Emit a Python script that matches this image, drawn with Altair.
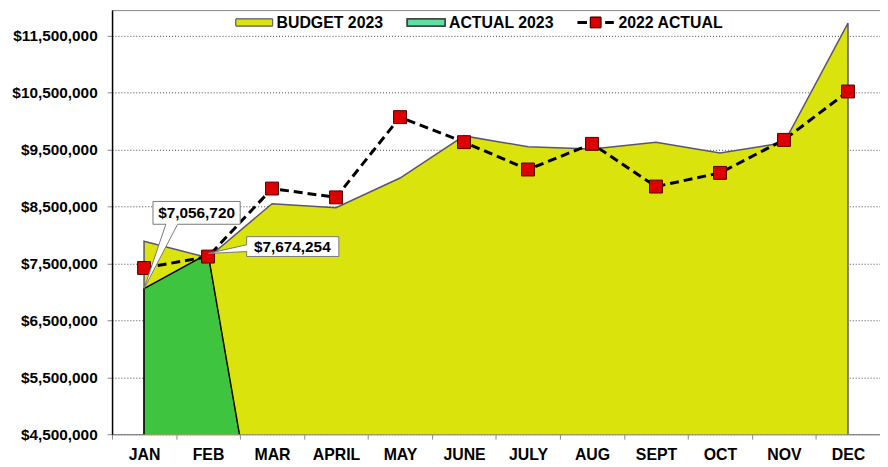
import altair as alt
import pandas as pd

months = ["JAN", "FEB", "MAR", "APRIL", "MAY", "JUNE", "JULY", "AUG", "SEPT", "OCT", "NOV", "DEC"]
budget_2023 = [7890000, 7600000, 8550000, 8480000, 9000000, 9740000, 9550000, 9510000, 9630000, 9440000, 9620000, 11720000]
actual_2023 = [7056720, 7674254, 1200000, None, None, None, None, None, None, None, None, None]
actual_2022 = [7420000, 7620000, 8815000, 8660000, 10070000, 9630000, 9150000, 9600000, 8850000, 9090000, 9670000, 10520000]

callout_months = ["JAN", "FEB"]
callout_values = [7056720, 7674254]
callout_labels = ["$7,056,720", "$7,674,254"]

y_ticks = [4500000, 5500000, 6500000, 7500000, 8500000, 9500000, 10500000, 11500000]
legend_labels = ["BUDGET 2023", "ACTUAL 2023", "2022 ACTUAL"]

FONT = "Liberation Sans"
YELLOW = "#DAE30B"
GREEN = "#3FC43F"
RED = "#DD0000"

df = pd.DataFrame({"month": months, "budget": budget_2023,
                   "actual23": actual_2023, "actual22": actual_2022})
co = pd.DataFrame({"month": callout_months, "value": callout_values, "label": callout_labels})

W, H = 775, 428
xscale = alt.Scale(type="band", paddingInner=0, paddingOuter=0, domain=months)
yscale = alt.Scale(domain=[4500000, 11950000], nice=False, zero=False)

x_enc = alt.X("month:N", sort=months, scale=xscale, title=None,
              axis=alt.Axis(labelFont=FONT, labelFontSize=16, labelFontWeight="bold",
                            labelColor="black", labelAngle=0, labelPadding=8,
                            tickBand="extent", tickSize=5, tickColor="#888",
                            domainColor="#888", grid=False))
y_axis = alt.Axis(values=y_ticks, format="$,.0f", labelFont=FONT, labelFontSize=15.5,
                  labelFontWeight="bold", labelColor="black", labelPadding=10,
                  tickSize=5, tickColor="#888", domainColor="black", domainWidth=1.5,
                  grid=True, gridDash=[1, 2], gridColor="#444", gridWidth=1)


def xe():
    return alt.X("month:N", sort=months, scale=xscale, title=None)


def ye(field):
    return alt.Y(field, scale=yscale, title=None)


base = alt.Chart(df)

budget = base.mark_area(color=YELLOW, stroke="#5B5570", strokeWidth=1.5, clip=True).encode(
    x=x_enc,
    y=alt.Y("budget:Q", scale=yscale, title=None, axis=y_axis),
)

actual = base.mark_area(color=GREEN, stroke="black", strokeWidth=1.5, clip=True).encode(
    x=xe(), y=ye("actual23:Q"))

line22 = base.mark_line(color="black", strokeWidth=3, strokeDash=[9, 5]).encode(
    x=xe(), y=ye("actual22:Q"))
pts22 = base.mark_point(shape="square", filled=True, size=170, fill=RED, stroke="#500000",
                        strokeWidth=1, opacity=1).encode(x=xe(), y=ye("actual22:Q"))

# callout boxes with pointer wedge (tip at the data point)
path1 = "M0,0 L0.5,-1.477 H0.205 V-2 H2.205 V-1.477 H0.77 Z"
path2 = "M0,0 L0.886,-0.045 V0.068 H3 V-0.386 H0.886 V-0.2 Z"
co1 = alt.Chart(co.iloc[[0]])
co2 = alt.Chart(co.iloc[[1]])
box1 = co1.mark_point(shape=path1, size=7744, filled=True, fill="white", stroke="#777",
                      strokeWidth=1, opacity=1).encode(x=xe(), y=ye("value:Q"))
box2 = co2.mark_point(shape=path2, size=7744, filled=True, fill="white", stroke="#777",
                      strokeWidth=1, opacity=1).encode(x=xe(), y=ye("value:Q"))
txt1 = co1.mark_text(font=FONT, fontSize=15.5, fontWeight="bold", color="black",
                     dx=53, dy=-76, baseline="middle").encode(
    x=xe(), y=ye("value:Q"), text="label:N")
txt2 = co2.mark_text(font=FONT, fontSize=15.5, fontWeight="bold", color="black",
                     dx=85, dy=-7, baseline="middle").encode(
    x=xe(), y=ye("value:Q"), text="label:N")

# legend
leg = alt.Chart(pd.DataFrame({"label": legend_labels}))
sw1 = leg.mark_rect(fill=YELLOW, stroke="#666", strokeWidth=1).encode(
    x=alt.value(125), x2=alt.value(162), y=alt.value(9), y2=alt.value(16))
sw2 = leg.mark_rect(fill="#5FE0A0", stroke="#444", strokeWidth=1.5).encode(
    x=alt.value(298), x2=alt.value(336), y=alt.value(9), y2=alt.value(16))
legline = leg.mark_rule(color="black", strokeWidth=3, strokeDash=[9, 5]).encode(
    x=alt.value(470), x2=alt.value(506), y=alt.value(12.5))
legpt = leg.mark_point(shape="square", filled=True, size=110, fill=RED, stroke="#500000",
                       strokeWidth=1, opacity=1).encode(x=alt.value(488), y=alt.value(12.5))
lt = []
for i, xpos in enumerate([166, 340, 511]):
    lt.append(alt.Chart(pd.DataFrame({"label": [legend_labels[i]]})).mark_text(
        font=FONT, fontSize=16, fontWeight="bold", color="black", align="left",
        baseline="middle").encode(x=alt.value(xpos), y=alt.value(13), text="label:N"))

chart = alt.layer(budget, actual, line22, pts22, box1, box2, txt1, txt2,
                  sw1, sw2, legline, legpt, *lt).properties(
    width=W, height=H,
    autosize=alt.AutoSizeParams(type="none"),
    padding={"left": 105, "top": 0, "right": 0, "bottom": 31},
).configure_view(stroke="#888", strokeWidth=1)

chart.save("out.html", embed_options={"renderer": "svg", "actions": False})
